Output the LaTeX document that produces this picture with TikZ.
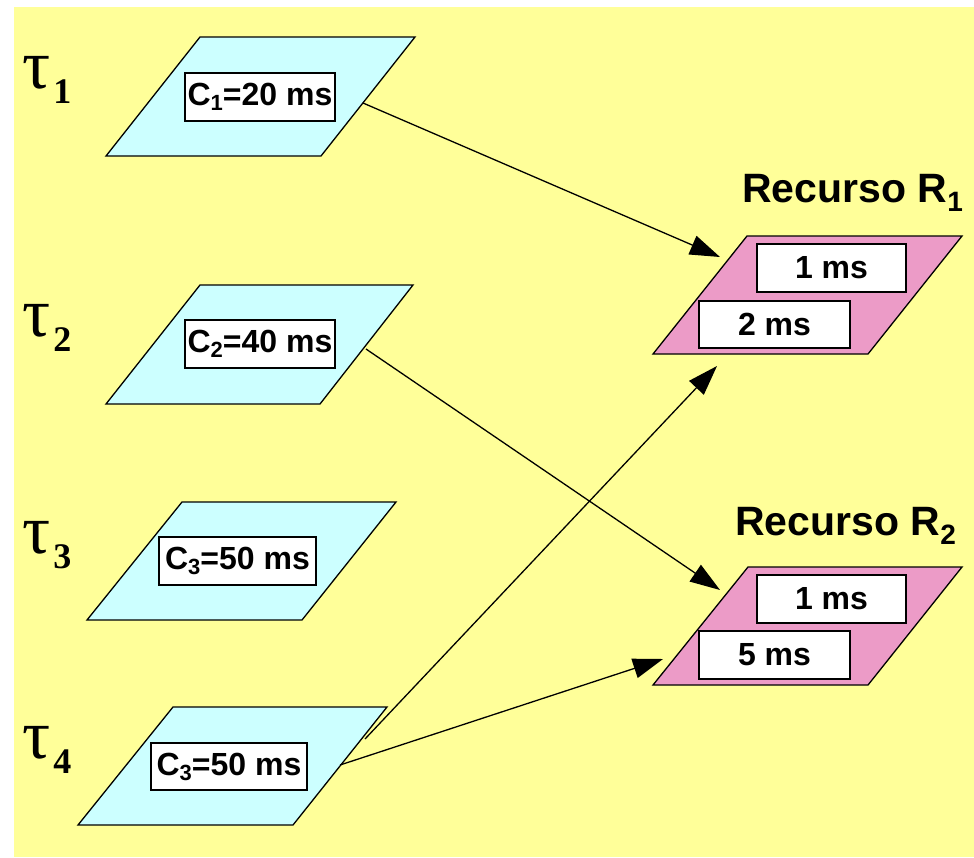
\documentclass[tikz,border=0pt]{standalone}
\usepackage{fontspec}
\setmainfont{Liberation Sans}
\newfontfamily\taufont{Liberation Serif}
\newfontfamily\taubold{Liberation Serif Bold}
\usetikzlibrary{arrows.meta}
\definecolor{bgyellow}{RGB}{255,255,153}
\definecolor{taskcyan}{RGB}{204,255,255}
\definecolor{respink}{RGB}{236,155,199}
\newcommand{\sbig}[1]{{\fontsize{22}{22}\selectfont\raisebox{-5pt}{#1}}}
\newcommand{\taulab}[1]{{\taufont\fontsize{70}{70}\selectfont τ\hspace{3pt}\raisebox{-15pt}{\taubold\fontsize{36}{36}\selectfont #1}}}
\tikzset{
  para/.style={draw=black, line width=1.3pt, line join=miter},
  taskpara/.style={para, fill=taskcyan},
  respara/.style={para, fill=respink},
  valbox/.style={draw=black, line width=2pt, fill=white, inner sep=0pt,
    minimum height=48pt, font=\fontsize{32}{32}\selectfont\bfseries},
  reslabel/.style={anchor=base west, inner sep=0pt, font=\fontsize{41}{41}\selectfont\bfseries},
  taulabel/.style={anchor=base west, inner sep=0pt},
  conn/.style={draw=black, line width=1.3pt, -{Triangle[length=30pt,width=20pt]}}
}
\begin{document}
\begin{tikzpicture}[x=1pt,y=-1pt]
\useasboundingbox (0,0) rectangle (974,857);
\fill[bgyellow] (14,7) rectangle (974,857);

% task parallelograms
\path[taskpara] (200,37) -- (415,37) -- (321,156) -- (106,156) -- cycle;
\path[taskpara] (200,285) -- (413,285) -- (320,404) -- (106,404) -- cycle;
\path[taskpara] (182,502) -- (396,502) -- (302,620) -- (87,620) -- cycle;
\path[taskpara] (173,707) -- (387,707) -- (293,825) -- (78,825) -- cycle;

% resource parallelograms
\path[respara] (747,236) -- (962,236) -- (868,354) -- (653,354) -- cycle;
\path[respara] (748,567) -- (962,567) -- (868,685) -- (653,685) -- cycle;

% task boxes
\node[valbox, minimum width=150pt] (c1) at (260,97) {C\sbig{1}=20 ms};
\node[valbox, minimum width=150pt] (c2) at (260,344) {C\sbig{2}=40 ms};
\node[valbox, minimum width=157pt] (c3) at (237.5,561) {C\sbig{3}=50 ms};
\node[valbox, minimum width=156pt, minimum height=47pt] (c4) at (229,766.5) {C\sbig{3}=50 ms};

% resource boxes
\node[valbox, minimum width=149pt] (r1a) at (831.5,268) {1 ms};
\node[valbox, minimum width=151pt, minimum height=47pt] (r1b) at (774.5,324.5) {2 ms};
\node[valbox, minimum width=149pt] (r2a) at (831.5,599) {1 ms};
\node[valbox, minimum width=151pt] (r2b) at (774.5,655) {5 ms};

% resource labels
\node[reslabel] (lr1) at (742,202) {Recurso R{\fontsize{28}{28}\selectfont\raisebox{-9pt}{1}}};
\node[reslabel] (lr2) at (735,535) {Recurso R{\fontsize{28}{28}\selectfont\raisebox{-9pt}{2}}};

% task labels
\node[taulabel] (t1) at (22,88) {\taulab{1}};
\node[taulabel] (t2) at (22,336) {\taulab{2}};
\node[taulabel] (t3) at (22,553) {\taulab{3}};
\node[taulabel] (t4) at (22,758) {\taulab{4}};

% connector end points
\coordinate (p1out) at (363,103);
\coordinate (p2out) at (366,349);
\coordinate (p4outA) at (365,739);
\coordinate (p4outB) at (340,765);
\coordinate (r1inA) at (720,257);
\coordinate (r1inB) at (717,366);
\coordinate (r2inA) at (720,590);
\coordinate (r2inB) at (663,659);

\draw[conn] (p1out) -- (r1inA);
\draw[conn] (p2out) -- (r2inA);
\draw[conn] (p4outA) -- (r1inB);
\draw[conn] (p4outB) -- (r2inB);
\end{tikzpicture}
\end{document}
